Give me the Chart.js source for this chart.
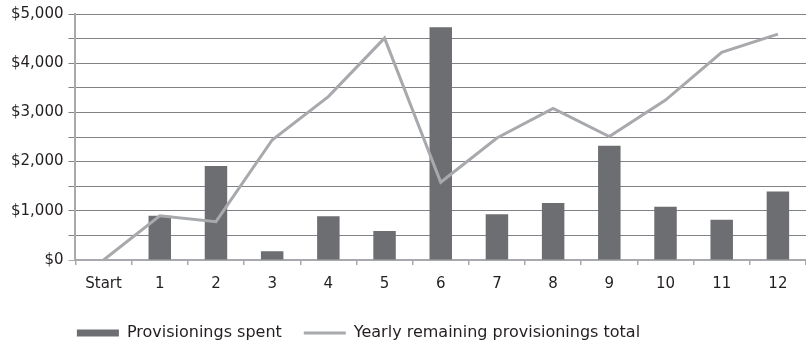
<!DOCTYPE html>
<html>
<head>
<meta charset="utf-8">
<script src="https://cdn.jsdelivr.net/npm/chart.js@4/dist/chart.umd.min.js"></script>
<style>
  html, body { margin: 0; padding: 0; background: #ffffff; }
  #wrap { width: 806px; height: 346px; }
</style>
</head>
<body>
<div id="wrap"><canvas id="chart" width="806" height="346"></canvas></div>
<script>
// Periods along the x axis
const categories = ['Start', '1', '2', '3', '4', '5', '6', '7', '8', '9', '10', '11', '12'];
// Amount spent in each period (no spending at the start)
const spent = [null, 900, 1910, 180, 890, 590, 4730, 930, 1160, 2320, 1080, 820, 1390];
// Running total still available
const remaining = [0, 900, 780, 2440, 3320, 4510, 1580, 2480, 3080, 2510, 3250, 4220, 4590];
// Series names shown in the legend
const seriesNames = ['Provisionings spent', 'Yearly remaining provisionings total'];
// Y axis range and spacing
const yMin = 0, yMax = 5000, yStep = 500, yLabelStep = 1000;

const BAR = '#6d6e71';
const LINE = '#a7a9ac';
const GRID = '#808285';
const TEXT = '#231f20';
const FONT = 'DejaVu Sans';

// Nudge the centred legend row to the left of the canvas centre
const legendOffset = {
  id: 'legendOffset',
  afterLayout(chart) {
    const lg = chart.legend;
    if (!lg) return;
    lg.left = 0;
    lg.right = chart.width - 89;
    lg.width = lg.right - lg.left;
  }
};

new Chart(document.getElementById('chart'), {
  data: {
    labels: categories,
    datasets: [
      {
        type: 'bar',
        label: seriesNames[0],
        data: spent,
        backgroundColor: BAR,
        borderWidth: 0,
        barPercentage: 0.4,
        categoryPercentage: 1.0,
        order: 1
      },
      {
        type: 'line',
        label: seriesNames[1],
        data: remaining,
        borderColor: LINE,
        backgroundColor: LINE,
        borderWidth: 3,
        pointRadius: 0,
        tension: 0,
        order: 0
      }
    ]
  },
  options: {
    responsive: false,
    animation: false,
    layout: { padding: { top: 14, right: 0, bottom: -5, left: 6 } },
    plugins: {
      tooltip: { enabled: false },
      legend: {
        position: 'bottom',
        align: 'center',
        labels: {
          color: TEXT,
          font: { family: FONT, size: 16 },
          usePointStyle: true,
          pointStyleWidth: 42,
          boxHeight: 7,
          padding: 22,
          generateLabels(chart) {
            return chart.data.datasets.map((ds, i) => ({
              text: ds.label,
              datasetIndex: i,
              fontColor: TEXT,
              hidden: false,
              pointStyle: ds.type === 'line' ? 'line' : 'rect',
              fillStyle: ds.type === 'line' ? LINE : BAR,
              strokeStyle: ds.type === 'line' ? LINE : BAR,
              lineWidth: ds.type === 'line' ? 3 : 0
            }));
          }
        }
      }
    },
    scales: {
      x: {
        offset: true,
        grid: {
          offset: true,
          drawOnChartArea: false,
          drawTicks: true,
          tickLength: 5,
          color: LINE,
          lineWidth: 1.5
        },
        border: { color: LINE, width: 2 },
        ticks: {
          color: TEXT,
          font: { family: FONT, size: 15 },
          padding: 10,
          maxRotation: 0,
          autoSkip: false
        }
      },
      y: {
        min: yMin,
        max: yMax,
        grid: {
          color: (c) => (c.tick && c.tick.value === 0 ? LINE : GRID),
          lineWidth: 1,
          tickLength: 7
        },
        border: { color: LINE, width: 2 },
        ticks: {
          stepSize: yStep,
          color: TEXT,
          font: { family: FONT, size: 15 },
          padding: 5,
          callback: (v) => (v % yLabelStep === 0 ? '$' + v.toLocaleString('en-US') : '')
        }
      }
    }
  },
  plugins: [legendOffset]
});
</script>
</body>
</html>
